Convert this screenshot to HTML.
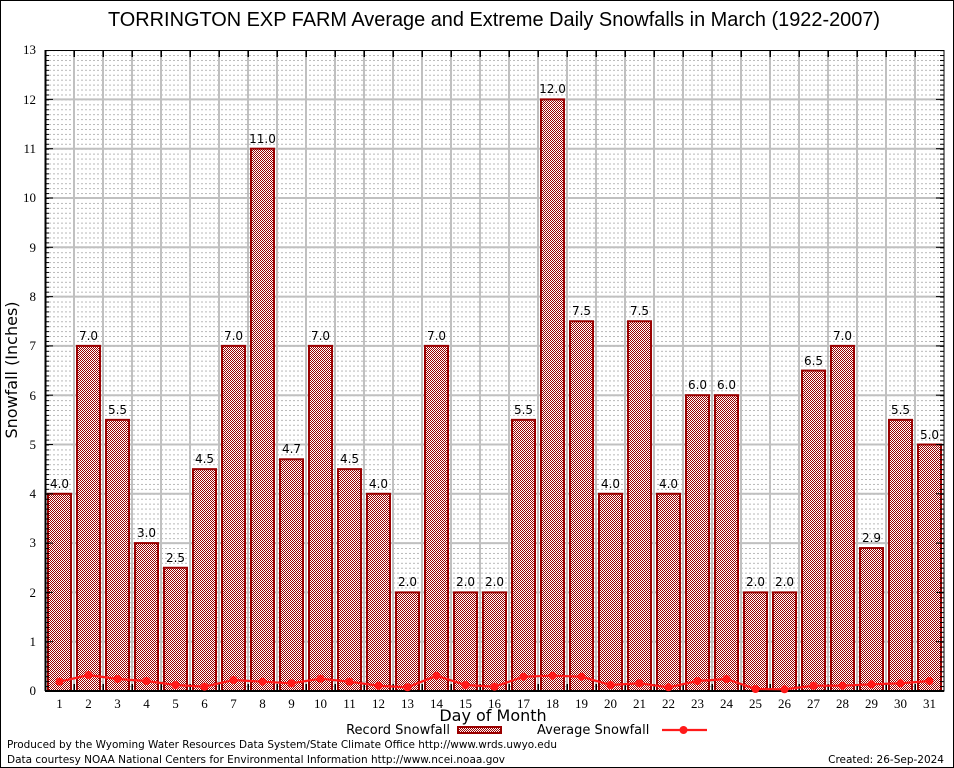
<!DOCTYPE html>
<html><head><meta charset="utf-8"><style>
html,body{margin:0;padding:0;background:#fff;}
svg{display:block;}
</style></head><body>
<svg width="954" height="768" viewBox="0 0 954 768" xmlns="http://www.w3.org/2000/svg">
<defs>
<pattern id="chk" patternUnits="userSpaceOnUse" width="2" height="2">
<rect width="2" height="2" fill="#ffffff"/>
<rect x="0" y="0" width="1" height="1" fill="#9a0000"/>
<rect x="1" y="1" width="1" height="1" fill="#9a0000"/>
</pattern>
<pattern id="minor" patternUnits="userSpaceOnUse" x="45" y="50.1" width="4" height="4.93">
<rect x="0" y="0" width="2" height="1" fill="#b8b8b8"/>
</pattern>
<pattern id="ltick" patternUnits="userSpaceOnUse" x="0" y="50.1" width="954" height="4.93">
<rect x="45" y="0" width="4" height="1" fill="#000"/>
<rect x="940" y="0" width="4" height="1" fill="#000"/>
</pattern>
<pattern id="xtick" patternUnits="userSpaceOnUse" x="73.5" y="0" width="29" height="768">
<rect x="0" y="50" width="1.5" height="7" fill="#000"/>
<rect x="0" y="684" width="1.5" height="7" fill="#000"/>
</pattern>
</defs>
<rect x="0" y="0" width="954" height="768" fill="#fff"/>
<rect x="0.5" y="0.5" width="953" height="767" fill="none" stroke="#000" stroke-width="1"/>

<text x="494" y="26" font-family="Liberation Sans, Arial, sans-serif" font-size="20" text-anchor="middle" fill="#000" textLength="772" lengthAdjust="spacingAndGlyphs">TORRINGTON EXP FARM Average and Extreme Daily Snowfalls in March (1922-2007)</text>

<!-- minor grid -->
<rect x="46" y="50" width="898" height="641" fill="url(#minor)"/>
<!-- major horizontal grid -->
<g stroke="#c0c0c0" stroke-width="2">
<line x1="45" x2="944" y1="641.7" y2="641.7"/>
<line x1="45" x2="944" y1="592.4" y2="592.4"/>
<line x1="45" x2="944" y1="543.1" y2="543.1"/>
<line x1="45" x2="944" y1="493.8" y2="493.8"/>
<line x1="45" x2="944" y1="444.5" y2="444.5"/>
<line x1="45" x2="944" y1="395.2" y2="395.2"/>
<line x1="45" x2="944" y1="345.9" y2="345.9"/>
<line x1="45" x2="944" y1="296.6" y2="296.6"/>
<line x1="45" x2="944" y1="247.3" y2="247.3"/>
<line x1="45" x2="944" y1="198.0" y2="198.0"/>
<line x1="45" x2="944" y1="148.7" y2="148.7"/>
<line x1="45" x2="944" y1="99.4" y2="99.4"/>
</g>
<!-- vertical grid -->
<g stroke="#c0c0c0" stroke-width="2">
<line x1="74" x2="74" y1="50" y2="691"/>
<line x1="103" x2="103" y1="50" y2="691"/>
<line x1="132" x2="132" y1="50" y2="691"/>
<line x1="161" x2="161" y1="50" y2="691"/>
<line x1="190" x2="190" y1="50" y2="691"/>
<line x1="219" x2="219" y1="50" y2="691"/>
<line x1="248" x2="248" y1="50" y2="691"/>
<line x1="277" x2="277" y1="50" y2="691"/>
<line x1="306" x2="306" y1="50" y2="691"/>
<line x1="335" x2="335" y1="50" y2="691"/>
<line x1="364" x2="364" y1="50" y2="691"/>
<line x1="393" x2="393" y1="50" y2="691"/>
<line x1="422" x2="422" y1="50" y2="691"/>
<line x1="451" x2="451" y1="50" y2="691"/>
<line x1="480" x2="480" y1="50" y2="691"/>
<line x1="509" x2="509" y1="50" y2="691"/>
<line x1="538" x2="538" y1="50" y2="691"/>
<line x1="567" x2="567" y1="50" y2="691"/>
<line x1="596" x2="596" y1="50" y2="691"/>
<line x1="625" x2="625" y1="50" y2="691"/>
<line x1="654" x2="654" y1="50" y2="691"/>
<line x1="683" x2="683" y1="50" y2="691"/>
<line x1="712" x2="712" y1="50" y2="691"/>
<line x1="741" x2="741" y1="50" y2="691"/>
<line x1="770" x2="770" y1="50" y2="691"/>
<line x1="799" x2="799" y1="50" y2="691"/>
<line x1="828" x2="828" y1="50" y2="691"/>
<line x1="857" x2="857" y1="50" y2="691"/>
<line x1="886" x2="886" y1="50" y2="691"/>
<line x1="915" x2="915" y1="50" y2="691"/>
</g>

<!-- bars -->
<g fill="url(#chk)" stroke="#9a0000" stroke-width="2">
<rect x="48" y="493.8" width="23" height="197.2"/>
<rect x="77" y="345.9" width="23" height="345.1"/>
<rect x="106" y="419.85" width="23" height="271.15"/>
<rect x="135" y="543.1" width="23" height="147.9"/>
<rect x="164" y="567.75" width="23" height="123.25"/>
<rect x="193" y="469.15" width="23" height="221.85"/>
<rect x="222" y="345.9" width="23" height="345.1"/>
<rect x="251" y="148.7" width="23" height="542.3"/>
<rect x="280" y="459.29" width="23" height="231.71"/>
<rect x="309" y="345.9" width="23" height="345.1"/>
<rect x="338" y="469.15" width="23" height="221.85"/>
<rect x="367" y="493.8" width="23" height="197.2"/>
<rect x="396" y="592.4" width="23" height="98.6"/>
<rect x="425" y="345.9" width="23" height="345.1"/>
<rect x="454" y="592.4" width="23" height="98.6"/>
<rect x="483" y="592.4" width="23" height="98.6"/>
<rect x="512" y="419.85" width="23" height="271.15"/>
<rect x="541" y="99.4" width="23" height="591.6"/>
<rect x="570" y="321.25" width="23" height="369.75"/>
<rect x="599" y="493.8" width="23" height="197.2"/>
<rect x="628" y="321.25" width="23" height="369.75"/>
<rect x="657" y="493.8" width="23" height="197.2"/>
<rect x="686" y="395.2" width="23" height="295.8"/>
<rect x="715" y="395.2" width="23" height="295.8"/>
<rect x="744" y="592.4" width="23" height="98.6"/>
<rect x="773" y="592.4" width="23" height="98.6"/>
<rect x="802" y="370.55" width="23" height="320.45"/>
<rect x="831" y="345.9" width="23" height="345.1"/>
<rect x="860" y="548.03" width="23" height="142.97"/>
<rect x="889" y="419.85" width="23" height="271.15"/>
<rect x="918" y="444.5" width="23" height="246.5"/>
</g>

<!-- value labels -->
<g font-family="DejaVu Sans, Liberation Sans, sans-serif" font-size="12" text-anchor="middle" fill="#000">
<text x="59.5" y="488">4.0</text>
<text x="88.5" y="340">7.0</text>
<text x="117.5" y="414">5.5</text>
<text x="146.5" y="537">3.0</text>
<text x="175.5" y="562">2.5</text>
<text x="204.5" y="463">4.5</text>
<text x="233.5" y="340">7.0</text>
<text x="262.5" y="143">11.0</text>
<text x="291.5" y="453">4.7</text>
<text x="320.5" y="340">7.0</text>
<text x="349.5" y="463">4.5</text>
<text x="378.5" y="488">4.0</text>
<text x="407.5" y="586">2.0</text>
<text x="436.5" y="340">7.0</text>
<text x="465.5" y="586">2.0</text>
<text x="494.5" y="586">2.0</text>
<text x="523.5" y="414">5.5</text>
<text x="552.5" y="93">12.0</text>
<text x="581.5" y="315">7.5</text>
<text x="610.5" y="488">4.0</text>
<text x="639.5" y="315">7.5</text>
<text x="668.5" y="488">4.0</text>
<text x="697.5" y="389">6.0</text>
<text x="726.5" y="389">6.0</text>
<text x="755.5" y="586">2.0</text>
<text x="784.5" y="586">2.0</text>
<text x="813.5" y="365">6.5</text>
<text x="842.5" y="340">7.0</text>
<text x="871.5" y="542">2.9</text>
<text x="900.5" y="414">5.5</text>
<text x="929.5" y="439">5.0</text>
</g>

<!-- axes frame -->
<rect x="45.5" y="50.5" width="898.5" height="640.5" fill="none" stroke="#000" stroke-width="1"/>
<line x1="45" x2="944" y1="691" y2="691" stroke="#000" stroke-width="2"/>
<line x1="45.5" x2="45.5" y1="50" y2="691" stroke="#000" stroke-width="2"/>

<rect x="45" y="50" width="900" height="641" fill="url(#ltick)"/>
<g stroke="#000" stroke-width="1">
<line x1="45" x2="53" y1="641.7" y2="641.7"/><line x1="45" x2="53" y1="592.4" y2="592.4"/><line x1="45" x2="53" y1="543.1" y2="543.1"/><line x1="45" x2="53" y1="493.8" y2="493.8"/><line x1="45" x2="53" y1="444.5" y2="444.5"/><line x1="45" x2="53" y1="395.2" y2="395.2"/><line x1="45" x2="53" y1="345.9" y2="345.9"/><line x1="45" x2="53" y1="296.6" y2="296.6"/><line x1="45" x2="53" y1="247.3" y2="247.3"/><line x1="45" x2="53" y1="198" y2="198"/><line x1="45" x2="53" y1="148.7" y2="148.7"/><line x1="45" x2="53" y1="99.4" y2="99.4"/>
<line x1="936" x2="944" y1="641.7" y2="641.7"/><line x1="936" x2="944" y1="592.4" y2="592.4"/><line x1="936" x2="944" y1="543.1" y2="543.1"/><line x1="936" x2="944" y1="493.8" y2="493.8"/><line x1="936" x2="944" y1="444.5" y2="444.5"/><line x1="936" x2="944" y1="395.2" y2="395.2"/><line x1="936" x2="944" y1="345.9" y2="345.9"/><line x1="936" x2="944" y1="296.6" y2="296.6"/><line x1="936" x2="944" y1="247.3" y2="247.3"/><line x1="936" x2="944" y1="198" y2="198"/><line x1="936" x2="944" y1="148.7" y2="148.7"/><line x1="936" x2="944" y1="99.4" y2="99.4"/>
</g>
<rect x="60" y="50" width="870" height="641" fill="url(#xtick)"/>

<!-- average line -->
<polyline fill="none" stroke="#ff1a1a" stroke-width="2.2" stroke-linejoin="round" points="59.5,681.7 88.5,675 117.5,679 146.5,681 175.5,685 204.5,686.7 233.5,680 262.5,681.7 291.5,683.3 320.5,678.7 349.5,681.7 378.5,685.7 407.5,687.3 436.5,675.7 465.5,685 494.5,686.7 523.5,676.7 552.5,675.7 581.5,676.7 610.5,685 639.5,683.3 668.5,687.3 697.5,681 726.5,679 755.5,689 784.5,689.3 813.5,685.7 842.5,685.7 871.5,684.3 900.5,683.3 929.5,681"/>
<g fill="#ff1a1a" stroke="none">
<circle cx="59.5" cy="681.7" r="4"/><circle cx="88.5" cy="675" r="4"/><circle cx="117.5" cy="679" r="4"/><circle cx="146.5" cy="681" r="4"/><circle cx="175.5" cy="685" r="4"/><circle cx="204.5" cy="686.7" r="4"/><circle cx="233.5" cy="680" r="4"/><circle cx="262.5" cy="681.7" r="4"/><circle cx="291.5" cy="683.3" r="4"/><circle cx="320.5" cy="678.7" r="4"/><circle cx="349.5" cy="681.7" r="4"/><circle cx="378.5" cy="685.7" r="4"/><circle cx="407.5" cy="687.3" r="4"/><circle cx="436.5" cy="675.7" r="4"/><circle cx="465.5" cy="685" r="4"/><circle cx="494.5" cy="686.7" r="4"/><circle cx="523.5" cy="676.7" r="4"/><circle cx="552.5" cy="675.7" r="4"/><circle cx="581.5" cy="676.7" r="4"/><circle cx="610.5" cy="685" r="4"/><circle cx="639.5" cy="683.3" r="4"/><circle cx="668.5" cy="687.3" r="4"/><circle cx="697.5" cy="681" r="4"/><circle cx="726.5" cy="679" r="4"/><circle cx="755.5" cy="689" r="4"/><circle cx="784.5" cy="689.3" r="4"/><circle cx="813.5" cy="685.7" r="4"/><circle cx="842.5" cy="685.7" r="4"/><circle cx="871.5" cy="684.3" r="4"/><circle cx="900.5" cy="683.3" r="4"/><circle cx="929.5" cy="681" r="4"/>
</g>

<!-- y tick labels -->
<g font-family="Liberation Serif, DejaVu Serif, serif" font-size="13" text-anchor="end" fill="#000">
<text x="36" y="695">0</text>
<text x="36" y="646">1</text>
<text x="36" y="597">2</text>
<text x="36" y="547">3</text>
<text x="36" y="498">4</text>
<text x="36" y="449">5</text>
<text x="36" y="400">6</text>
<text x="36" y="350">7</text>
<text x="36" y="301">8</text>
<text x="36" y="252">9</text>
<text x="36" y="202">10</text>
<text x="36" y="153">11</text>
<text x="36" y="104">12</text>
<text x="36" y="54">13</text>
</g>
<!-- x tick labels -->
<g font-family="Liberation Serif, DejaVu Serif, serif" font-size="13" text-anchor="middle" fill="#000">
<text x="59.5" y="708">1</text><text x="88.5" y="708">2</text><text x="117.5" y="708">3</text><text x="146.5" y="708">4</text><text x="175.5" y="708">5</text><text x="204.5" y="708">6</text><text x="233.5" y="708">7</text><text x="262.5" y="708">8</text><text x="291.5" y="708">9</text><text x="320.5" y="708">10</text><text x="349.5" y="708">11</text><text x="378.5" y="708">12</text><text x="407.5" y="708">13</text><text x="436.5" y="708">14</text><text x="465.5" y="708">15</text><text x="494.5" y="708">16</text><text x="523.5" y="708">17</text><text x="552.5" y="708">18</text><text x="581.5" y="708">19</text><text x="610.5" y="708">20</text><text x="639.5" y="708">21</text><text x="668.5" y="708">22</text><text x="697.5" y="708">23</text><text x="726.5" y="708">24</text><text x="755.5" y="708">25</text><text x="784.5" y="708">26</text><text x="813.5" y="708">27</text><text x="842.5" y="708">28</text><text x="871.5" y="708">29</text><text x="900.5" y="708">30</text><text x="929.5" y="708">31</text>
</g>

<!-- axis titles -->
<text x="493" y="721" font-family="DejaVu Sans, Liberation Sans, sans-serif" font-size="16" text-anchor="middle" fill="#000">Day of Month</text>
<text transform="translate(17,370) rotate(-90)" font-family="DejaVu Sans, Liberation Sans, sans-serif" font-size="16" text-anchor="middle" fill="#000">Snowfall (Inches)</text>

<!-- legend -->
<text x="450" y="734" font-family="DejaVu Sans, Liberation Sans, sans-serif" font-size="13" text-anchor="end" fill="#000">Record Snowfall</text>
<rect x="458" y="727" width="43" height="6" fill="url(#chk)" stroke="#9a0000" stroke-width="2"/>
<text x="537" y="734" font-family="DejaVu Sans, Liberation Sans, sans-serif" font-size="13" fill="#000">Average Snowfall</text>
<line x1="662" x2="707" y1="730" y2="730" stroke="#ff1a1a" stroke-width="2.2"/>
<circle cx="683.5" cy="730" r="4" fill="#ff1a1a"/>

<!-- footer -->
<g font-family="DejaVu Sans, Liberation Sans, sans-serif" font-size="10.5" fill="#000">
<text x="7" y="748" textLength="550" lengthAdjust="spacingAndGlyphs">Produced by the Wyoming Water Resources Data System/State Climate Office http://www.wrds.uwyo.edu</text>
<text x="7" y="763" textLength="498" lengthAdjust="spacingAndGlyphs">Data courtesy NOAA National Centers for Environmental Information http://www.ncei.noaa.gov</text>
<text x="944" y="763" text-anchor="end">Created: 26-Sep-2024</text>
</g>
</svg>
</body></html>
